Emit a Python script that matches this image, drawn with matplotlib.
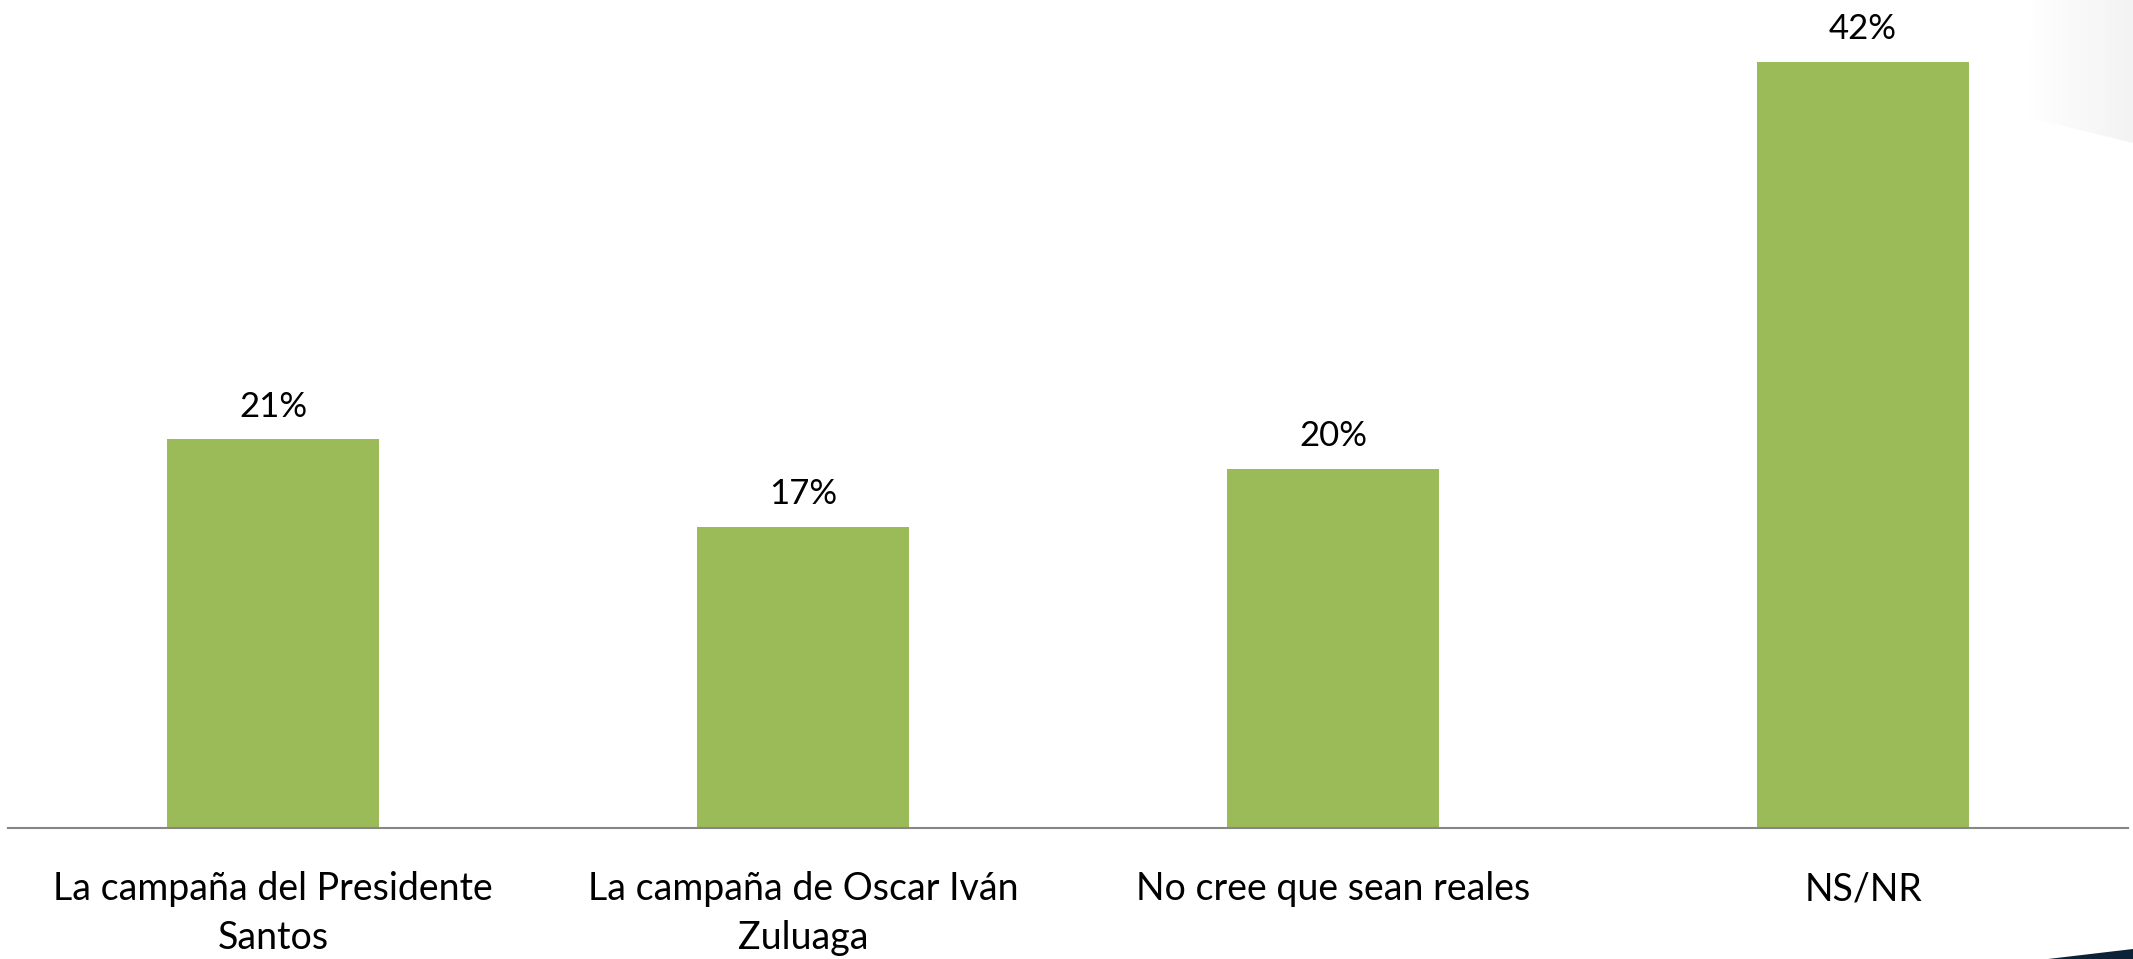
import matplotlib
matplotlib.use("Agg")
import matplotlib.pyplot as plt
import numpy as np
from matplotlib.patches import Polygon

# 数据：类别、数值、数值标签
categories = [
    "La campaña del Presidente\nSantos",
    "La campaña de Oscar Iván\nZuluaga",
    "No cree que sean reales",
    "NS/NR",
]
values = [21.3, 16.5, 19.7, 42.0]
value_labels = ["21%", "17%", "20%", "42%"]

BAR_COLOR = "#9BBB59"
AXIS_COLOR = "#868686"

plt.rcParams["font.family"] = ["Lato", "DejaVu Sans"]

W, H = 2133, 959
fig = plt.figure(figsize=(W / 100, H / 100), dpi=100)
fig.patch.set_facecolor("white")

# 右上角浅灰渐变装饰
corner = Polygon(
    [(2033 / W, 1.0), (2027 / W, 1 - 117 / H), (1.0, 1 - 143 / H), (1.0, 1.0)],
    closed=True, transform=fig.transFigure, facecolor="none", edgecolor="none",
)
fig.add_artist(corner)
grad_ax = fig.add_axes([0, 0, 1, 1], zorder=0)
grad_ax.axis("off")
gradient = np.linspace(0, 1, 256).reshape(1, -1)
img = grad_ax.imshow(
    gradient, extent=[2025 / W, 1.0, 1 - 145 / H, 1.0], transform=fig.transFigure,
    cmap=matplotlib.colors.LinearSegmentedColormap.from_list("g", ["#ffffff", "#f3f3f3"]),
    aspect="auto",
)
img.set_clip_path(corner)

# 右下角深色装饰
fig.add_artist(Polygon(
    [(2048 / W, 0.0), (1.0, 1 - 949 / H), (1.0, 0.0)],
    closed=True, transform=fig.transFigure, facecolor="#0d2236", edgecolor="none", zorder=1,
))

ax = fig.add_axes([8 / W, (H - 828) / H, (2128 - 8) / W, (828 - 7) / H], zorder=2)
ax.patch.set_alpha(0)

x = list(range(len(categories)))
bars = ax.bar(x, values, width=0.4, color=BAR_COLOR, zorder=2)

for bar, label in zip(bars, value_labels):
    ax.annotate(
        label,
        xy=(bar.get_x() + bar.get_width() / 2, bar.get_height()),
        xytext=(0, 12),
        textcoords="offset points",
        ha="center",
        va="bottom",
        fontsize=25,
        color="black",
    )

ax.set_xlim(-0.5, len(categories) - 0.5)
ax.set_ylim(0, 45)
ax.set_xticks(x)
ax.set_xticklabels(categories, fontsize=27, linespacing=1.45)
ax.tick_params(axis="x", length=0, pad=31)
ax.set_yticks([])

for side in ["top", "right", "left"]:
    ax.spines[side].set_visible(False)
ax.spines["bottom"].set_color(AXIS_COLOR)
ax.spines["bottom"].set_linewidth(1.5)

fig.savefig("out.png", dpi=100)
